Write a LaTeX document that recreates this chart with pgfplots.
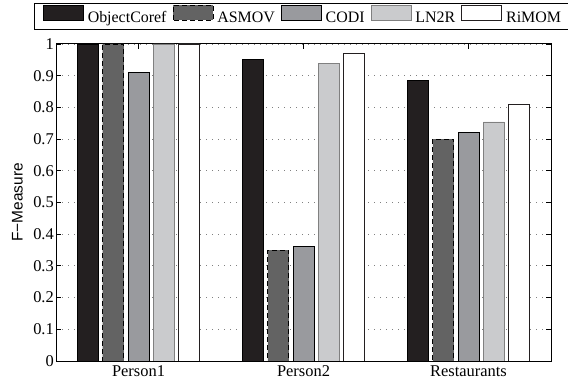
\documentclass[border=0pt]{standalone}
\usepackage{pgfplots}
\pgfplotsset{compat=1.18}
\usepackage{fontspec}
\setmainfont{Liberation Serif}
\newfontfamily\helv{Liberation Sans}
\definecolor{cObj}{HTML}{231F20}
\definecolor{cAsm}{HTML}{636363}
\definecolor{cCodi}{HTML}{999A9E}
\definecolor{cLn}{HTML}{CACBCD}
\definecolor{cLnE}{HTML}{808080}
\begin{document}
\begin{tikzpicture}
\useasboundingbox (-56bp,-25bp) rectangle (512bp,361bp);
\begin{axis}[
  scale only axis, width=495bp, height=317bp,
  xmin=-0.5, xmax=2.5, ymin=0, ymax=1,
  ybar=4.25bp, bar width=21bp,
  xtick={0,1,2}, xticklabels={Person1,Person2,Restaurants},
  ytick={0,0.1,0.2,0.3,0.4,0.5,0.6,0.7,0.8,0.9,1},
  yticklabels={0,0.1,0.2,0.3,0.4,0.5,0.6,0.7,0.8,0.9,1},
  /pgf/number format/assume math mode=true,
  ymajorgrids, major grid style={gray, line width=0.8bp, dash pattern=on 1bp off 5bp},
  tick align=inside, tick pos=both, major tick length=5bp,
  tick style={black, line width=0.8bp},
  axis line style={line width=1bp},
  ticklabel style={font=\fontsize{16.5}{19}\selectfont},
  yticklabel style={inner xsep=2bp},
  xticklabel style={yshift=-1.5bp},
  ylabel={F−Measure},
  ylabel style={font=\helv\fontsize{15.5}{18}\selectfont, at={(axis description cs:-0.0778,0.5)}, anchor=center},
  legend columns=5,
  legend style={at={(axis description cs:0.499,1.0868)}, anchor=center, draw=black, line width=1bp,
    font=\fontsize{16}{18}\selectfont, inner xsep=8bp, inner ysep=1.5bp,
    nodes={inner sep=2bp, text height=11bp, text depth=3.5bp},
    /tikz/every odd column/.append style={column sep=2bp},
    /tikz/every even column/.append style={column sep=4bp}},
  legend image code/.code={\draw[#1] (0bp,-1bp) rectangle (40bp,14bp);},
]
\addplot[fill=cObj, draw=black, line width=0.8bp] coordinates {(0,1) (1,0.95) (2,0.886)};
\addplot[fill=cAsm, draw=black, line width=0.8bp, dash pattern=on 5bp off 3bp] coordinates {(0,1) (1,0.35) (2,0.70)};
\addplot[fill=cCodi, draw=black, line width=0.8bp] coordinates {(0,0.91) (1,0.36) (2,0.72)};
\addplot[fill=cLn, draw=cLnE, line width=0.8bp] coordinates {(0,1) (1,0.94) (2,0.754)};
\addplot[fill=white, draw=cObj, line width=0.8bp] coordinates {(0,1) (1,0.97) (2,0.81)};
\legend{ObjectCoref,ASMOV,CODI,LN2R,RiMOM}
\end{axis}
\end{tikzpicture}
\end{document}
